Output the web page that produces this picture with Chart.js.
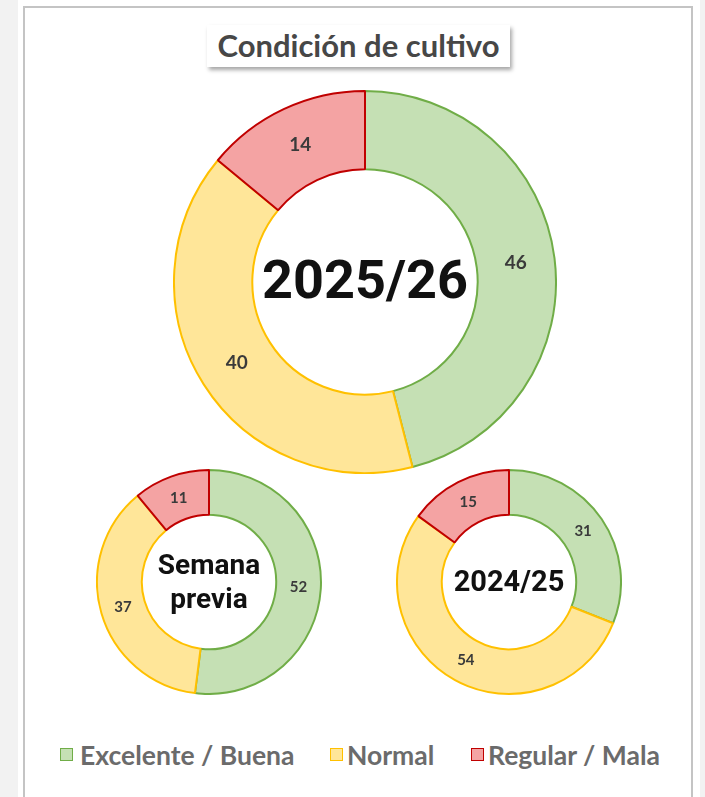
<!DOCTYPE html>
<html>
<head>
<meta charset="utf-8">
<script src="https://cdn.jsdelivr.net/npm/chart.js@4.4.1/dist/chart.umd.min.js"></script>
<style>
  html, body { margin:0; padding:0; }
  body { width:705px; height:797px; background:#f2f2f2; position:relative; overflow:hidden; font-family:Lato, "Open Sans", sans-serif; }
  #sheet { position:absolute; left:18px; top:0; width:682px; height:797px; background:#fff; }
  #panel { position:absolute; left:23px; top:6px; width:666px; height:800px; border:2px solid #c4c4c4; background:#fff; }
  #title { position:absolute; left:207px; top:25px; width:303px; height:42px; background:#fff;
           box-shadow: 2px 3px 4px rgba(0,0,0,0.35); text-align:center; line-height:40px;
           font-family:Lato, sans-serif; font-weight:700; font-size:31px; color:#474747; white-space:nowrap; }
  .wrap { position:absolute; }
  .legt { position:absolute; top:740px; font-family:Lato, sans-serif; font-weight:700; font-size:26.5px; color:#6b6b6b; line-height:30px; white-space:nowrap; }
  .sw { position:absolute; top:748px; width:11px; height:11px; border:1.5px solid; }
</style>
</head>
<body>
<div id="sheet"></div>
<div id="panel"></div>
<div id="title">Condición de cultivo</div>
<div class="wrap" style="left:173px;top:90px;width:384px;height:384px;"><canvas id="cMain"></canvas></div>
<div class="wrap" style="left:96px;top:469px;width:226px;height:226px;"><canvas id="cPrev"></canvas></div>
<div class="wrap" style="left:396px;top:469px;width:226px;height:226px;"><canvas id="cLast"></canvas></div>
<div id="legend"></div>
<script>
const categories = ["Excelente / Buena", "Normal", "Regular / Mala"];
const current = [46, 40, 14];        // 2025/26
const previousWeek = [52, 37, 11];   // Semana previa
const lastYear = [31, 54, 15];       // 2024/25
const centerLabels = { cMain: ["2025/26"], cPrev: ["Semana", "previa"], cLast: ["2024/25"] };

const fills = ["#c5e0b4", "#ffe699", "#f4a3a3"];
const borders = ["#70ad47", "#ffc000", "#c00000"];

const labelPlugin = {
  id: 'sliceLabels',
  afterDatasetsDraw(chart, args, opts) {
    const ctx = chart.ctx;
    const meta = chart.getDatasetMeta(0);
    const ds = chart.data.datasets[0];
    ctx.save();
    ctx.fillStyle = '#3a3a3a';
    ctx.font = '700 ' + opts.size + 'px Lato, sans-serif';
    ctx.textAlign = 'center';
    ctx.textBaseline = 'middle';
    meta.data.forEach((arc, i) => {
      const p = arc.tooltipPosition();
      ctx.fillText(String(ds.data[i]), p.x, p.y);
    });
    // center text
    const a0 = meta.data[0];
    const lines = opts.center;
    ctx.fillStyle = '#111';
    ctx.font = '700 ' + opts.centerSize + 'px Roboto, sans-serif';
    const lh = opts.centerSize * opts.lh;
    const y0 = a0.y - (lines.length - 1) * lh / 2;
    lines.forEach((t, k) => ctx.fillText(t, a0.x, y0 + k * lh + opts.centerDy));
    ctx.restore();
  }
};

function makeDonut(id, values, labelSize, centerSize, cutout, lh) {
  return new Chart(document.getElementById(id), {
    type: 'doughnut',
    data: {
      labels: categories,
      datasets: [{ data: values, backgroundColor: fills, borderColor: borders, borderWidth: 2 }]
    },
    options: {
      responsive: true,
      maintainAspectRatio: false,
      animation: false,
      cutout: cutout,
      plugins: {
        legend: { display: false },
        tooltip: { enabled: false },
        sliceLabels: { size: labelSize, center: centerLabels[id], centerSize: centerSize, centerDy: 2, lh: lh }
      }
    },
    plugins: [labelPlugin]
  });
}

makeDonut('cMain', current, 19, 54, '59%', 1.05);
makeDonut('cPrev', previousWeek, 15, 28, '60%', 1.22);
makeDonut('cLast', lastYear, 15, 29, '60%', 1.05);

// legend built from categories
const swX = [60, 330, 471];
const txX = [80, 347, 488];
const leg = document.getElementById('legend');
categories.forEach((c, i) => {
  const s = document.createElement('div');
  s.className = 'sw';
  s.style.left = swX[i] + 'px';
  s.style.background = fills[i];
  s.style.borderColor = borders[i];
  leg.appendChild(s);
  const t = document.createElement('div');
  t.className = 'legt';
  t.style.left = txX[i] + 'px';
  t.textContent = c;
  leg.appendChild(t);
});
</script>
</body>
</html>
